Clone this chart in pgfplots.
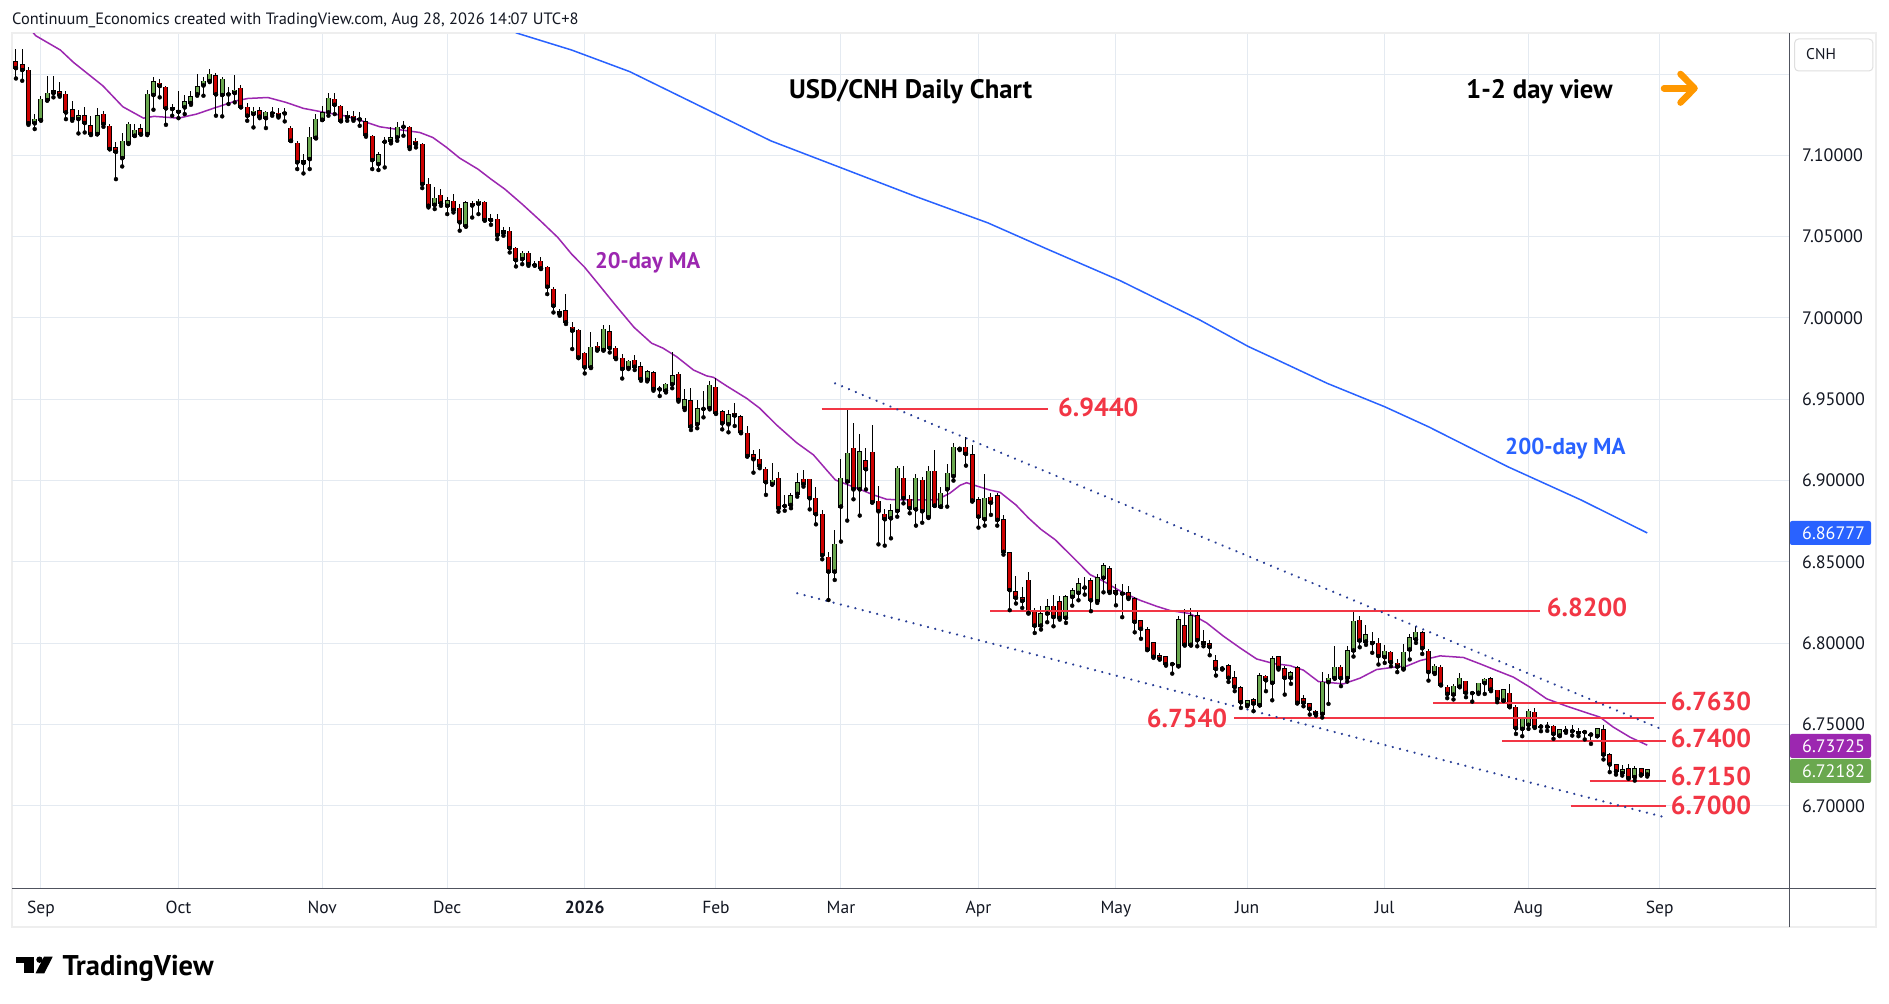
\documentclass[border=0pt]{standalone}
\usepackage{fontspec}
\setmainfont{PT Sans}
\usepackage{pgfplots}
\pgfplotsset{compat=1.18}
\usepackage{pgfplotstable}
\definecolor{cgreen}{RGB}{106,168,79}
\definecolor{cred}{RGB}{204,0,0}
\definecolor{tvred}{RGB}{242,54,69}
\definecolor{tvblue}{RGB}{41,98,255}
\definecolor{tvpurple}{RGB}{156,39,176}
\definecolor{tvorange}{RGB}{255,152,0}
\definecolor{gridc}{RGB}{228,234,241}
\definecolor{axc}{RGB}{80,83,94}
\definecolor{txt}{RGB}{19,23,34}
\definecolor{dotc}{RGB}{40,62,150}
\definecolor{framec}{RGB}{238,238,238}

\pgfplotstableread{
idx o h l c
-4 7.1576 7.1654 7.1473 7.1537
-3 7.1557 7.1654 7.1459 7.1525
-2 7.1525 7.1541 7.1188 7.1197
-1 7.1197 7.1254 7.1162 7.1223
0 7.1217 7.1367 7.1213 7.1346
1 7.1340 7.1488 7.1336 7.1383
2 7.1383 7.1488 7.1357 7.1398
3 7.1391 7.1453 7.1361 7.1369
4 7.1377 7.1393 7.1223 7.1264
5 7.1281 7.1336 7.1213 7.1223
6 7.1223 7.1279 7.1135 7.1244
7 7.1244 7.1295 7.1141 7.1199
8 7.1182 7.1244 7.1125 7.1131
9 7.1131 7.1291 7.1129 7.1244
10 7.1254 7.1275 7.1176 7.1193
11 7.1180 7.1193 7.1037 7.1039
12 7.1047 7.1084 7.0854 7.1022
13 7.0983 7.1137 7.0932 7.1088
14 7.1074 7.1203 7.1070 7.1193
15 7.1121 7.1193 7.1119 7.1156
16 7.1164 7.1193 7.1127 7.1131
17 7.1131 7.1404 7.1125 7.1377
18 7.1371 7.1484 7.1281 7.1453
19 7.1445 7.1469 7.1357 7.1426
20 7.1420 7.1428 7.1188 7.1289
21 7.1293 7.1316 7.1244 7.1285
22 7.1275 7.1398 7.1229 7.1268
23 7.1295 7.1371 7.1254 7.1330
24 7.1322 7.1393 7.1311 7.1361
25 7.1375 7.1500 7.1367 7.1422
26 7.1430 7.1484 7.1367 7.1457
27 7.1457 7.1531 7.1451 7.1500
28 7.1490 7.1504 7.1244 7.1375
29 7.1371 7.1480 7.1240 7.1469
30 7.1375 7.1418 7.1316 7.1379
31 7.1383 7.1496 7.1326 7.1402
32 7.1414 7.1432 7.1295 7.1297
33 7.1297 7.1320 7.1213 7.1244
34 7.1254 7.1295 7.1172 7.1270
35 7.1275 7.1295 7.1229 7.1238
36 7.1229 7.1275 7.1168 7.1264
37 7.1262 7.1295 7.1244 7.1258
38 7.1260 7.1291 7.1233 7.1242
39 7.1262 7.1291 7.1209 7.1258
40 7.1168 7.1182 7.1088 7.1090
41 7.1076 7.1090 7.0916 7.0957
42 7.0967 7.1008 7.0889 7.0953
43 7.0977 7.1176 7.0916 7.1110
44 7.1108 7.1254 7.1104 7.1223
45 7.1219 7.1305 7.1217 7.1262
46 7.1264 7.1385 7.1244 7.1352
47 7.1346 7.1385 7.1254 7.1311
48 7.1303 7.1309 7.1209 7.1213
49 7.1234 7.1275 7.1213 7.1248
50 7.1242 7.1275 7.1213 7.1223
51 7.1225 7.1264 7.1182 7.1221
52 7.1207 7.1229 7.1115 7.1125
53 7.1119 7.1125 7.0916 7.0971
54 7.0946 7.1018 7.0910 7.1004
55 7.1088 7.1115 7.0926 7.1084
56 7.1088 7.1172 7.1074 7.1108
57 7.1110 7.1203 7.1090 7.1172
58 7.1180 7.1209 7.1121 7.1176
59 7.1172 7.1182 7.1039 7.1049
60 7.1086 7.1106 7.1049 7.1070
61 7.1070 7.1074 7.0799 7.0824
62 7.0824 7.0861 7.0680 7.0690
63 7.0696 7.0803 7.0670 7.0735
64 7.0756 7.0793 7.0690 7.0705
65 7.0690 7.0741 7.0639 7.0721
66 7.0717 7.0762 7.0649 7.0664
67 7.0676 7.0701 7.0537 7.0588
68 7.0565 7.0721 7.0561 7.0709
69 7.0705 7.0721 7.0618 7.0692
70 7.0703 7.0729 7.0639 7.0719
71 7.0713 7.0721 7.0598 7.0602
72 7.0614 7.0639 7.0573 7.0602
73 7.0608 7.0639 7.0485 7.0510
74 7.0537 7.0557 7.0506 7.0522
75 7.0532 7.0557 7.0403 7.0430
76 7.0430 7.0438 7.0317 7.0356
77 7.0362 7.0413 7.0331 7.0397
78 7.0397 7.0413 7.0321 7.0331
79 7.0329 7.0352 7.0321 7.0325
80 7.0348 7.0372 7.0301 7.0305
81 7.0311 7.0321 7.0147 7.0192
82 7.0178 7.0188 7.0034 7.0075
83 7.0024 7.0055 7.0014 7.0038
84 7.0045 7.0147 6.9963 6.9973
85 6.9942 6.9973 6.9809 6.9922
86 6.9926 6.9932 6.9753 6.9757
87 6.9782 6.9788 6.9659 6.9696
88 6.9696 6.9911 6.9692 6.9819
89 6.9825 6.9850 6.9799 6.9805
90 6.9803 6.9958 6.9799 6.9932
91 6.9915 6.9958 6.9788 6.9815
92 6.9815 6.9829 6.9747 6.9753
93 6.9753 6.9778 6.9628 6.9686
94 6.9692 6.9741 6.9686 6.9733
95 6.9741 6.9774 6.9680 6.9700
96 6.9700 6.9727 6.9614 6.9624
97 6.9620 6.9680 6.9610 6.9669
98 6.9663 6.9676 6.9553 6.9563
99 6.9565 6.9583 6.9520 6.9561
100 6.9553 6.9598 6.9542 6.9594
101 6.9592 6.9789 6.9568 6.9644
102 6.9654 6.9668 6.9486 6.9496
103 6.9445 6.9562 6.9434 6.9496
104 6.9490 6.9568 6.9311 6.9332
105 6.9346 6.9496 6.9322 6.9441
106 6.9441 6.9551 6.9389 6.9443
107 6.9445 6.9613 6.9438 6.9586
108 6.9574 6.9629 6.9410 6.9414
109 6.9424 6.9434 6.9315 6.9352
110 6.9346 6.9434 6.9297 6.9406
111 6.9414 6.9475 6.9336 6.9400
112 6.9393 6.9404 6.9291 6.9297
113 6.9291 6.9336 6.9147 6.9151
114 6.9158 6.9188 6.9049 6.9131
115 6.9131 6.9194 6.9076 6.9090
116 6.9070 6.9086 6.8912 6.8990
117 6.8977 6.9106 6.8975 6.9002
118 6.9014 6.9051 6.8809 6.8830
119 6.8844 6.8912 6.8815 6.8846
120 6.8850 6.8922 6.8830 6.8908
121 6.8918 6.9049 6.8901 6.8987
122 6.9008 6.9065 6.8963 6.8977
123 6.9008 6.9010 6.8823 6.8891
124 6.8891 6.8963 6.8731 6.8793
125 6.8793 6.8819 6.8516 6.8541
126 6.8528 6.8563 6.8266 6.8440
127 6.8440 6.8696 6.8389 6.8608
128 6.8840 6.9133 6.8625 6.9014
129 6.8994 6.9441 6.8754 6.9168
130 6.9199 6.9356 6.8885 6.8946
131 6.8946 6.9287 6.8785 6.9178
132 6.9123 6.9199 6.8946 6.9070
133 6.9174 6.9342 6.8864 6.8867
134 6.8873 6.8967 6.8608 6.8811
135 6.8793 6.8823 6.8600 6.8762
136 6.8768 6.8856 6.8645 6.8815
137 6.8813 6.9090 6.8778 6.9076
138 6.9014 6.9090 6.8860 6.8891
139 6.8885 6.8912 6.8799 6.8830
140 6.8823 6.9041 6.8723 6.9014
141 6.9002 6.9024 6.8741 6.8811
142 6.8774 6.9090 6.8770 6.9057
143 6.9057 6.9188 6.8844 6.8846
144 6.8840 6.8963 6.8838 6.8922
145 6.8946 6.9102 6.8840 6.9045
146 6.9026 6.9229 6.9000 6.9205
147 6.9199 6.9209 6.9188 6.9195
148 6.9205 6.9270 6.9092 6.9164
149 6.9158 6.9219 6.8871 6.8877
150 6.8881 6.8901 6.8711 6.8778
151 6.8762 6.9041 6.8723 6.8891
152 6.8897 6.8922 6.8789 6.8864
153 6.8908 6.8922 6.8723 6.8758
154 6.8760 6.8790 6.8545 6.8562
155 6.8555 6.8562 6.8203 6.8326
156 6.8316 6.8416 6.8244 6.8279
157 6.8279 6.8344 6.8217 6.8260
158 6.8387 6.8438 6.8182 6.8186
159 6.8203 6.8217 6.8063 6.8108
160 6.8108 6.8227 6.8084 6.8180
161 6.8182 6.8272 6.8129 6.8223
162 6.8227 6.8299 6.8104 6.8160
163 6.8254 6.8289 6.8145 6.8156
164 6.8156 6.8299 6.8125 6.8285
165 6.8285 6.8340 6.8231 6.8324
166 6.8309 6.8402 6.8264 6.8367
167 6.8342 6.8408 6.8299 6.8344
168 6.8385 6.8402 6.8197 6.8264
169 6.8258 6.8426 6.8248 6.8402
170 6.8402 6.8494 6.8313 6.8477
171 6.8457 6.8477 6.8309 6.8315
172 6.8322 6.8361 6.8233 6.8307
173 6.8309 6.8361 6.8160 6.8305
174 6.8309 6.8350 6.8272 6.8279
175 6.8272 6.8285 6.8067 6.8131
176 6.8139 6.8139 6.8027 6.8088
177 6.8084 6.8100 6.7957 6.7961
178 6.8002 6.8002 6.7910 6.7916
179 6.7924 6.7940 6.7899 6.7903
180 6.7916 6.7924 6.7862 6.7871
181 6.7871 6.7883 6.7813 6.7875
182 6.7858 6.8166 6.7858 6.8145
183 6.8108 6.8211 6.7985 6.7990
184 6.7990 6.8217 6.7985 6.8170
185 6.8170 6.8197 6.7981 6.8018
186 6.8010 6.8084 6.7981 6.7998
187 6.7998 6.8018 6.7926 6.7977
188 6.7891 6.7930 6.7801 6.7842
189 6.7846 6.7858 6.7838 6.7844
190 6.7862 6.7869 6.7762 6.7787
191 6.7787 6.7832 6.7705 6.7731
192 6.7725 6.7735 6.7602 6.7637
193 6.7618 6.7653 6.7612 6.7645
194 6.7651 6.7664 6.7582 6.7629
195 6.7618 6.7817 6.7618 6.7801
196 6.7797 6.7807 6.7705 6.7772
197 6.7756 6.7920 6.7649 6.7905
198 6.7916 6.7920 6.7838 6.7848
199 6.7842 6.7858 6.7684 6.7787
200 6.7787 6.7828 6.7750 6.7817
201 6.7848 6.7858 6.7629 6.7633
202 6.7657 6.7684 6.7612 6.7633
203 6.7627 6.7633 6.7561 6.7596
204 6.7582 6.7592 6.7555 6.7567
205 6.7565 6.7820 6.7543 6.7760
206 6.7760 6.7811 6.7627 6.7785
207 6.7785 6.7982 6.7781 6.7852
208 6.7852 6.7863 6.7736 6.7785
209 6.7785 6.7980 6.7764 6.7955
210 6.7955 6.8197 6.7918 6.8135
211 6.8141 6.8166 6.7975 6.8016
212 6.8010 6.8109 6.7990 6.8051
213 6.8012 6.8068 6.7941 6.8000
214 6.8000 6.8031 6.7869 6.7920
215 6.7914 6.7986 6.7879 6.7951
216 6.7945 6.7949 6.7859 6.7883
217 6.7877 6.7904 6.7822 6.7856
218 6.7842 6.7996 6.7838 6.7945
219 6.7961 6.8057 6.7900 6.8035
220 6.8023 6.8105 6.8002 6.8068
221 6.8064 6.8072 6.7934 6.7969
222 6.7951 6.7965 6.7770 6.7822
223 6.7816 6.7873 6.7811 6.7859
224 6.7852 6.7863 6.7740 6.7744
225 6.7729 6.7740 6.7662 6.7688
226 6.7684 6.7750 6.7654 6.7736
227 6.7733 6.7815 6.7729 6.7785
228 6.7766 6.7770 6.7668 6.7695
229 6.7695 6.7699 6.7641 6.7693
230 6.7695 6.7754 6.7688 6.7754
231 6.7754 6.7787 6.7688 6.7777
232 6.7781 6.7791 6.7705 6.7715
233 6.7711 6.7715 6.7637 6.7654
234 6.7647 6.7715 6.7645 6.7713
235 6.7692 6.7746 6.7606 6.7610
236 6.7606 6.7617 6.7442 6.7477
237 6.7473 6.7545 6.7428 6.7535
238 6.7498 6.7596 6.7473 6.7582
239 6.7576 6.7602 6.7479 6.7483
240 6.7489 6.7504 6.7459 6.7487
241 6.7487 6.7514 6.7461 6.7489
242 6.7490 6.7498 6.7412 6.7442
243 6.7432 6.7473 6.7428 6.7467
244 6.7461 6.7490 6.7449 6.7463
245 6.7463 6.7494 6.7432 6.7459
246 6.7459 6.7477 6.7428 6.7447
247 6.7455 6.7463 6.7408 6.7453
248 6.7440 6.7442 6.7381 6.7438
249 6.7428 6.7479 6.7428 6.7473
250 6.7467 6.7494 6.7285 6.7315
251 6.7313 6.7323 6.7207 6.7254
252 6.7252 6.7258 6.7192 6.7211
253 6.7200 6.7248 6.7186 6.7221
254 6.7227 6.7258 6.7166 6.7170
255 6.7176 6.7244 6.7155 6.7227
256 6.7227 6.7233 6.7186 6.7192
257 6.7192 6.7227 6.7180 6.7221
}\ohlc

\begin{document}
\begin{tikzpicture}[x=1bp,y=1bp]
\path[use as bounding box] (0,0) rectangle (1889,1003);
\fill[white] (0,0) rectangle (1889,1003);
\draw[framec, line width=2bp] (12,75.5) rectangle (1876,969.5);

\begin{axis}[
  at={(12bp,114.5bp)}, anchor=south west,
  x=6.25bp, y=1626bp,
  xmin=-4.634, xmax=279.73, ymin=6.64914, ymax=7.17466,
  axis line style={draw=none},
  major tick length=0pt, tick style={draw=none},
  grid=major, grid style={gridc, line width=1bp},
  xtick={0,22,45,65,87,108,128,150,172,193,215,238,259},
  xticklabels={Sep,Oct,Nov,Dec,\textbf{2026},Feb,Mar,Apr,May,Jun,Jul,Aug,Sep},
  ytick={6.70,6.75,6.80,6.85,6.90,6.95,7.00,7.05,7.10,7.15},
  yticklabels={6.70000,6.75000,6.80000,6.85000,6.90000,6.95000,7.00000,7.05000,7.10000,{}},
  yticklabel pos=right,
  xticklabel style={anchor=base, inner sep=0pt, yshift=-25.5bp, font=\fontsize{17.5bp}{20bp}\selectfont, text=txt},
  yticklabel style={anchor=west, inner sep=0pt, xshift=12.7bp, font=\fontsize{18bp}{20bp}\selectfont, text=txt},
]
% 200-day MA
\addplot[tvblue, line width=1.5bp] coordinates {(74,7.1790) (76.3,7.1750) (84.9,7.1648) (94.2,7.1515) (105.4,7.1304) (116.8,7.1089) (128.4,7.0918) (139.9,7.0748) (151.5,7.0585) (161.1,7.0422) (172.7,7.0229) (185.4,6.9988) (193.2,6.9824) (196.7,6.9762) (205.8,6.9598) (215.0,6.9454) (222.0,6.9331) (234.7,6.9085) (246.4,6.8881) (257,6.8678)};
% 20-day MA
\addplot[tvpurple, line width=1.5bp] coordinates {(-2,7.1790) (-0.84,7.1736) (3.1,7.1648) (5.2,7.1572) (9.9,7.1428) (13.1,7.1299) (16.4,7.1229) (18.1,7.1240) (22.0,7.1229) (24.9,7.1254) (27.7,7.1291) (31.3,7.1336) (33.1,7.1350) (36.3,7.1356) (39.2,7.1326) (42.0,7.1289) (44.9,7.1268) (48.5,7.1244) (51.3,7.1213) (54.2,7.1176) (57.7,7.1156) (60.6,7.1141) (62.7,7.1110) (64.9,7.1049) (67.0,7.0983) (69.9,7.0916) (72.0,7.0854) (74.2,7.0793) (77.0,7.0700) (79.9,7.0598) (82.7,7.0495) (84.9,7.0393) (87.0,7.0311) (89.2,7.0208) (92.0,7.0075) (94.9,6.9942) (97.7,6.9845) (99.5,6.9815) (101.7,6.9762) (104.4,6.9680) (106.5,6.9644) (107.6,6.9635) (109.7,6.9582) (112.9,6.9506) (115.0,6.9445) (117.7,6.9342) (120.9,6.9233) (123.6,6.9158) (125.7,6.9065) (127.1,6.9004) (128.9,6.8977) (131.05,6.8946) (133.2,6.8912) (135.3,6.8885) (137.4,6.8881) (140.6,6.8881) (143.3,6.8881) (145.4,6.8922) (147.05,6.8971) (148.1,6.8987) (149.7,6.8967) (151.8,6.8942) (153.45,6.8928) (156,6.8850) (158,6.8770) (160,6.8700) (162.25,6.8637) (165.2,6.8525) (167.85,6.8422) (170.0,6.8381) (173.2,6.8309) (175.85,6.8264) (178.5,6.8227) (180.65,6.8201) (183.85,6.8182) (186.5,6.8125) (189.2,6.8043) (191.85,6.7971) (194.5,6.7903) (197.2,6.7875) (199.85,6.7862) (202.0,6.7834) (204.4,6.7764) (208.4,6.7750) (211.05,6.7785) (213.7,6.7838) (216.4,6.7852) (218.5,6.7859) (220.65,6.7893) (223.85,6.7922) (227.6,6.7912) (230.25,6.7873) (232.9,6.7832) (235.6,6.7791) (238.25,6.7729) (240.9,6.7658) (244.1,6.7613) (247.3,6.7572) (249.45,6.7545) (251.6,6.7483) (254.25,6.7422) (257,6.7373)};
% wicks
\addplot[only marks, mark=none, error bars/.cd, y dir=both, y explicit, error mark=none,
  error bar style={draw=black, line width=1bp}]
  table[x=idx, y=l, y error plus expr=\thisrow{h}-\thisrow{l}, y error minus expr=0] {\ohlc};
% green bodies
\addplot[only marks, mark=none, restrict expr to domain={\thisrow{c}-\thisrow{o}}{0:1},
  error bars/.cd, y dir=both, y explicit, error mark=none,
  error bar style={draw=black, line width=5bp}]
  table[x=idx, y=o, y error plus expr=\thisrow{c}-\thisrow{o}+0.0003, y error minus expr=0.0003] {\ohlc};
\addplot[only marks, mark=none, restrict expr to domain={\thisrow{c}-\thisrow{o}}{0:1},
  error bars/.cd, y dir=both, y explicit, error mark=none,
  error bar style={draw=cgreen, line width=3bp}]
  table[x=idx, y=o, y error plus expr=\thisrow{c}-\thisrow{o}, y error minus expr=0] {\ohlc};
% red bodies
\addplot[only marks, mark=none, restrict expr to domain={\thisrow{c}-\thisrow{o}}{-1:-0.00001},
  error bars/.cd, y dir=both, y explicit, error mark=none,
  error bar style={draw=black, line width=5bp}]
  table[x=idx, y=c, y error plus expr=\thisrow{o}-\thisrow{c}+0.0003, y error minus expr=0.0003] {\ohlc};
\addplot[only marks, mark=none, restrict expr to domain={\thisrow{c}-\thisrow{o}}{-1:-0.00001},
  error bars/.cd, y dir=both, y explicit, error mark=none,
  error bar style={draw=cred, line width=3bp}]
  table[x=idx, y=c, y error plus expr=\thisrow{o}-\thisrow{c}, y error minus expr=0] {\ohlc};
% level lines
\addplot[tvred, line width=2bp] coordinates {(124.9,6.9440) (161.1,6.9440)};
\addplot[tvred, line width=2bp] coordinates {(151.9,6.8200) (239.8,6.8200)};
\addplot[tvred, line width=2bp] coordinates {(190.9,6.7540) (258.1,6.7540)};
\addplot[tvred, line width=2bp] coordinates {(222.8,6.7630) (260.0,6.7630)};
\addplot[tvred, line width=2bp] coordinates {(233.8,6.7400) (260.0,6.7400)};
\addplot[tvred, line width=2bp] coordinates {(247.8,6.7150) (260.0,6.7150)};
\addplot[tvred, line width=2bp] coordinates {(244.8,6.7000) (260.0,6.7000)};
% channel
\addplot[dotc, line width=2.4bp, line cap=round, dash pattern=on 0.1bp off 7.4bp] coordinates {(127.05,6.9598) (259.5,6.7468)};
\addplot[dotc, line width=2.4bp, line cap=round, dash pattern=on 0.1bp off 7.4bp] coordinates {(121.0,6.8307) (259.85,6.6929)};
\end{axis}

\draw[axc, line width=1.3bp] (12,114.5) -- (1876,114.5);
\draw[axc, line width=1.3bp] (1789.3,75.5) -- (1789.3,969.5);

\fill[tvblue, rounded corners=2bp] (1790,458) rectangle (1871,482);
\node[anchor=west, inner sep=0pt, text=white, font=\fontsize{18bp}{20bp}\selectfont] at (1802,470) {6.86777};
\fill[tvpurple, rounded corners=2bp] (1790,245) rectangle (1871,269);
\node[anchor=west, inner sep=0pt, text=white, font=\fontsize{18bp}{20bp}\selectfont] at (1802,257) {6.73725};
\fill[cgreen, rounded corners=2bp] (1790,220) rectangle (1871,244);
\node[anchor=west, inner sep=0pt, text=white, font=\fontsize{18bp}{20bp}\selectfont] at (1802,232) {6.72182};

\draw[gray!25, line width=1bp, rounded corners=4bp] (1794.6,932) rectangle (1872.9,964);
\node[anchor=base west, inner sep=0pt, text=txt, font=\fontsize{15.5bp}{18bp}\selectfont] at (1806,943) {CNH};

\node[anchor=base west, inner sep=0pt, text=txt, font=\fontsize{16.4bp}{19bp}\selectfont] at (12,978) {Continuum\_Economics created with TradingView.com, Aug 28, 2026 14:07 UTC+8};

\node[anchor=base west, inner sep=0pt, text=black, font=\fontsize{26.7bp}{30bp}\selectfont\bfseries] at (789,904) {USD/CNH Daily Chart};
\node[anchor=base west, inner sep=0pt, text=black, font=\fontsize{26.7bp}{30bp}\selectfont\bfseries] at (1466,904) {1-2 day view};
\draw[tvorange, line width=6.5bp, line cap=round] (1664,914.7) -- (1693,914.7);
\draw[tvorange, line width=6.5bp, line cap=round, line join=round] (1680.5,929) -- (1694.5,914.7) -- (1680.5,900.4);

\node[anchor=base west, inner sep=0pt, text=tvpurple, font=\fontsize{22.5bp}{26bp}\selectfont\bfseries] at (595,734) {20-day MA};
\node[anchor=base west, inner sep=0pt, text=tvblue, font=\fontsize{23bp}{27bp}\selectfont\bfseries] at (1505,548) {200-day MA};

\begin{scope}[every node/.style={anchor=west, inner sep=0pt, text=tvred, font=\fontsize{26bp}{30bp}\selectfont\bfseries}]
\node at (1058,595.5) {6.9440};
\node at (1546.7,395.8) {6.8200};
\node at (1146.7,285) {6.7540};
\node at (1670.7,301.8) {6.7630};
\node at (1670.7,265) {6.7400};
\node at (1670.7,226.7) {6.7150};
\node at (1670.7,197.7) {6.7000};
\end{scope}

\fill[black] (15.6,40.5) rectangle (33.5,46.3);
\fill[black] (24,29.7) rectangle (33.5,46.3);
\fill[black] (39.5,43.3) circle (3.2);
\fill[black] (35.5,29.7) -- (44.3,29.7) -- (52.7,46.3) -- (44,46.3) -- cycle;
\node[anchor=base west, inner sep=0pt, text=black, font=\fontsize{28.5bp}{32bp}\selectfont\bfseries] at (62.5,28) {TradingView};
\end{tikzpicture}
\end{document}
